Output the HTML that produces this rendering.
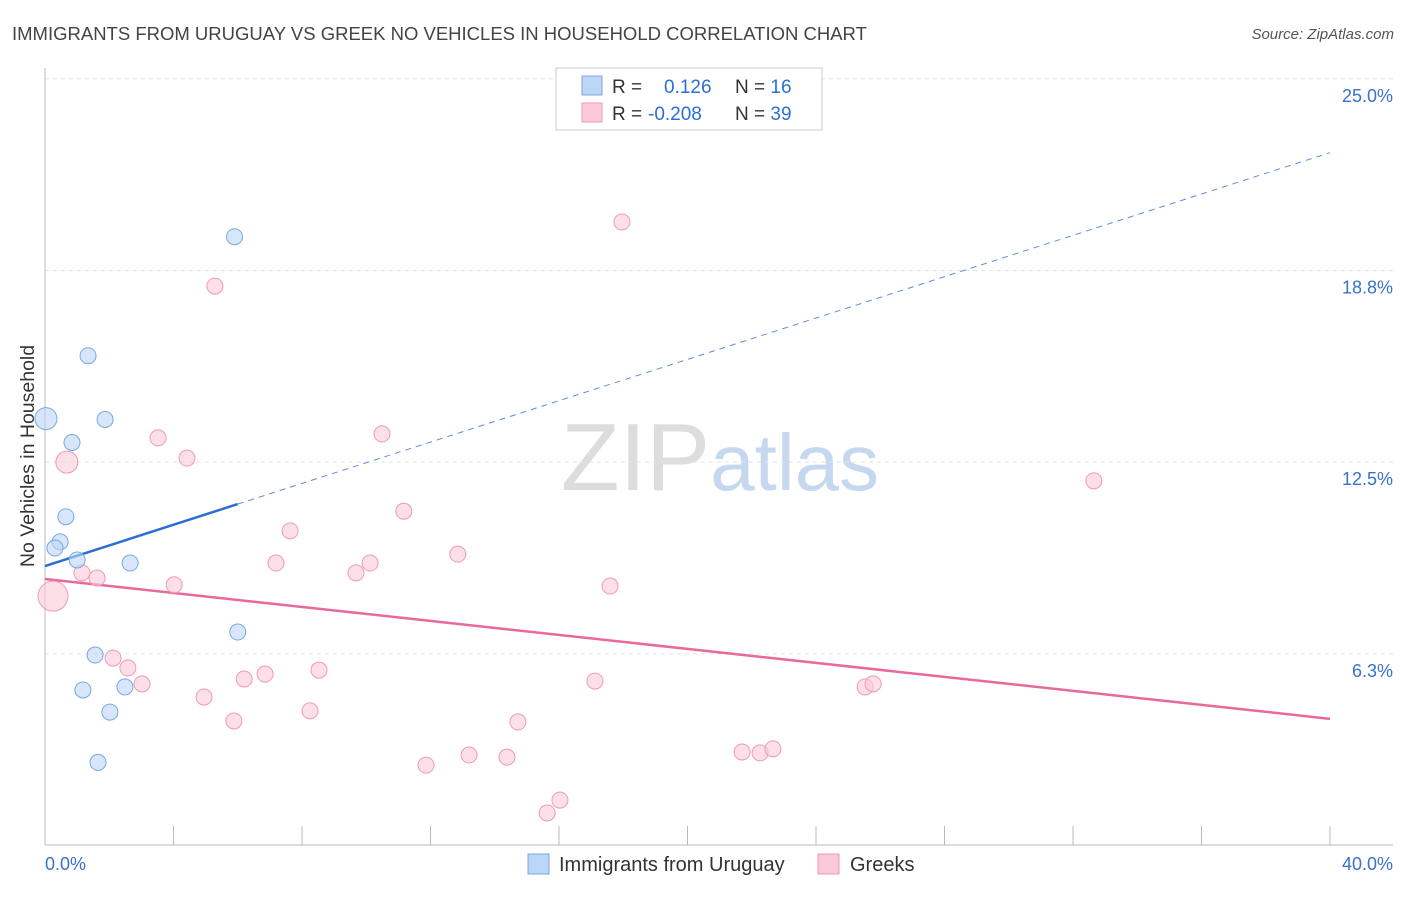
<!DOCTYPE html>
<html><head><meta charset="utf-8"><style>
body{margin:0;background:#fff;font-family:"Liberation Sans",sans-serif;}
svg text{font-family:"Liberation Sans",sans-serif;}
</style></head><body>
<svg id="chart" width="1406" height="892" xmlns="http://www.w3.org/2000/svg">
<text x="12" y="40" font-size="18.5" fill="#444">IMMIGRANTS FROM URUGUAY VS GREEK NO VEHICLES IN HOUSEHOLD CORRELATION CHART</text>
<text x="1394" y="39" font-size="15" fill="#555" font-style="italic" text-anchor="end">Source: ZipAtlas.com</text>
<text x="720" y="490" font-size="96" text-anchor="middle" fill="#ddd" font-family="Liberation Serif">ZIP<tspan fill="#c5d8ef" font-family="Liberation Sans" font-size="80">atlas</tspan></text>
<g id="grid"></g><g id="axes"></g><g id="lines"></g><g id="pts"></g>
<text transform="translate(34,456) rotate(-90)" font-size="19.5" fill="#333" text-anchor="middle">No Vehicles in Household</text>
<g>
<rect x="556" y="68" width="266" height="62" fill="#fff" stroke="#ccc"/>
<rect x="582" y="76" width="20" height="19" fill="#bcd6f7" stroke="#7aa8e0"/>
<rect x="582" y="103" width="20" height="19" fill="#fbc9d8" stroke="#ee9ab5"/>
<text x="612" y="93" font-size="19" fill="#333">R = <tspan fill="#2b6fd3" x="664">0.126</tspan><tspan x="735" fill="#333">N = </tspan><tspan fill="#2b6fd3">16</tspan></text>
<text x="612" y="120" font-size="19" fill="#333">R = <tspan fill="#2b6fd3" x="648">-0.208</tspan><tspan x="735" fill="#333">N = </tspan><tspan fill="#2b6fd3">39</tspan></text>
</g>
<g>
<rect x="528" y="854" width="21" height="20" fill="#bcd6f7" stroke="#7aa8e0"/>
<text x="559" y="871" font-size="20" fill="#333">Immigrants from Uruguay</text>
<rect x="818" y="854" width="21" height="20" fill="#fbc9d8" stroke="#ee9ab5"/>
<text x="850" y="871" font-size="20" fill="#333">Greeks</text>
</g>
</svg>
<script>
const blueX=[5.9,1.34,0.03,1.87,0.84,0.65,0.47,0.31,1.0,2.65,6.0,1.56,1.18,2.49,2.02,1.65];
const blueY=[19.85,15.97,13.92,13.89,13.14,10.72,9.9,9.7,9.31,9.21,6.96,6.21,5.07,5.17,4.35,2.71];
const blueS=[8,8,11,8,8,8,8,8,8,8,8,8,8,8,8,8];
const pinkX=[17.96,5.29,3.52,10.49,0.68,4.42,32.65,11.17,7.63,12.85,7.19,10.12,9.68,1.15,1.62,4.02,17.59,0.25,2.12,2.58,8.53,6.85,6.2,3.02,17.12,25.53,25.78,4.95,8.25,5.88,14.72,13.2,14.38,11.86,21.7,22.26,22.66,16.03,15.63];
const pinkY=[20.33,18.24,13.29,13.42,12.5,12.63,11.89,10.9,10.26,9.5,9.21,9.21,8.89,8.89,8.72,8.5,8.46,8.13,6.11,5.79,5.72,5.59,5.43,5.27,5.36,5.17,5.27,4.84,4.39,4.06,4.03,2.95,2.88,2.62,3.05,3.02,3.15,1.48,1.06];
const pinkS=[8,8,8,8,11,8,8,8,8,8,8,8,8,8,8,8,8,15,8,8,8,8,8,8,8,8,8,8,8,8,8,8,8,8,8,8,8,8,8];
const yTicks=[6.25,12.5,18.75,25];
const yTickLabels=["6.3%","12.5%","18.8%","25.0%"];
const xTicks=[0,4,8,12,16,20,24,28,32,36,40];
const blueTrend=[9.11,0.337];
const pinkTrend=[8.69,-0.114];
const NS="http://www.w3.org/2000/svg";
const X=v=>45+v*32.125, Y=v=>845.5-v*30.67;
function mk(p,t,a){const e=document.createElementNS(NS,t);for(const k in a)e.setAttribute(k,a[k]);document.getElementById(p).appendChild(e);return e;}
yTicks.forEach((t,i)=>{
 const g=mk('grid','line',{x1:45,x2:1393,y1:Y(t),y2:Y(t),stroke:'#e4e4e4','stroke-dasharray':'4,4'});
 
 
 const l=mk('grid','text',{x:1393,y:Y(t)+23,'font-size':18,fill:'#3a72c8','text-anchor':'end'});
 l.textContent=yTickLabels[i];
 
 
});
const ax=mk('axes','line',{x1:45,x2:1393,y1:845,y2:845,stroke:'#bbb'});


const ay=mk('axes','line',{x1:45,x2:45,y1:68,y2:845,stroke:'#bbb'});


xTicks.forEach(t=>{const e=mk('axes','line',{x1:X(t),x2:X(t),y1:826,y2:845,stroke:'#bbb'});
 
 });
const x0=mk('axes','text',{x:45,y:870,'font-size':18,fill:'#3a72c8'});x0.textContent='0.0%';


const x1=mk('axes','text',{x:1393,y:870,'font-size':18,fill:'#3a72c8','text-anchor':'end'});x1.textContent='40.0%';


function pts(xs,ys,ss,fill,stroke,name){xs.forEach((x,i)=>{const c=mk('pts','circle',{cx:X(x),cy:Y(ys[i]),r:ss[i],fill:fill,'fill-opacity':0.6,stroke:stroke,'stroke-width':1});
 
 });}
pts(pinkX,pinkY,pinkS,'#fbc9d8','#ee9ab5','greeks-point');
pts(blueX,blueY,blueS,'#bcd6f7','#7aa8e0','uruguay-point');
const bf=v=>blueTrend[0]+blueTrend[1]*v, pf=v=>pinkTrend[0]+pinkTrend[1]*v;
const b1=mk('lines','line',{x1:X(0),y1:Y(bf(0)),x2:X(6),y2:Y(bf(6)),stroke:'#2b6fd3','stroke-width':2.5});


const b2=mk('lines','line',{x1:X(6),y1:Y(bf(6)),x2:X(40),y2:Y(bf(40)),stroke:'#5b8fdb','stroke-width':1,'stroke-dasharray':'6,5'});


const p1=mk('lines','line',{x1:X(0),y1:Y(pf(0)),x2:X(40),y2:Y(pf(40)),stroke:'#e8699a','stroke-width':2.5});


</script>
</body></html>
